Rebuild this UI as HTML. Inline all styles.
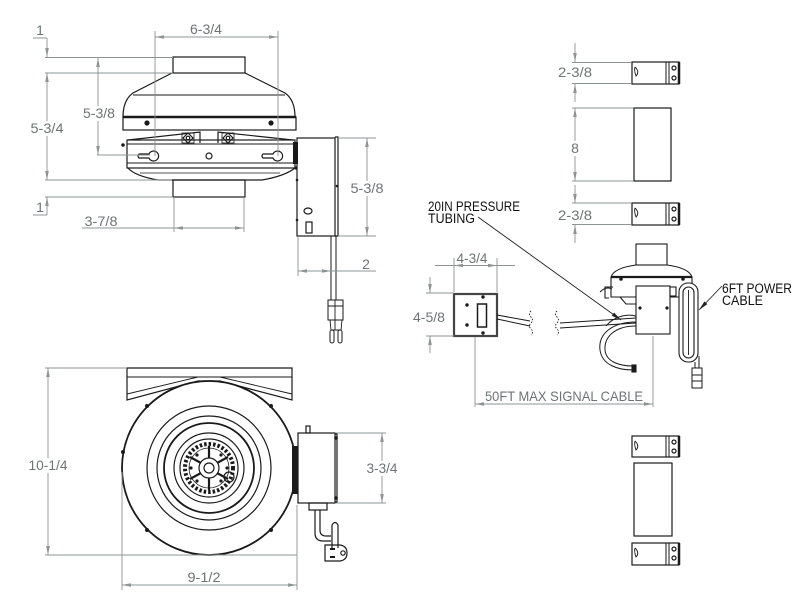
<!DOCTYPE html>
<html><head><meta charset="utf-8"><style>
html,body{margin:0;padding:0;background:#fff;}
svg{display:block;}
.d{font-family:"Liberation Sans",sans-serif;font-size:14px;fill:#6e7474;}
.c{font-family:"Liberation Sans",sans-serif;font-size:13.5px;fill:#111;}
</style></head><body>
<svg width="800" height="612" viewBox="0 0 800 612" xmlns="http://www.w3.org/2000/svg">
<defs>
<marker id="a" viewBox="0 0 10 4" markerWidth="9" markerHeight="3.6" refX="10" refY="2" orient="auto-start-reverse" markerUnits="userSpaceOnUse">
<path d="M0,0L10,2L0,4z" fill="#8e9494"/></marker>
<marker id="b" viewBox="0 0 10 4" markerWidth="10" markerHeight="4" refX="10" refY="2" orient="auto" markerUnits="userSpaceOnUse">
<path d="M0,0L10,2L0,4z" fill="#222"/></marker>
</defs>
<rect width="800" height="612" fill="#fff"/>

<!-- ============ TOP-LEFT SIDE VIEW (drawing) ============ -->
<g stroke="#1a1a1a" stroke-width="1.2" fill="none">
 <rect x="173" y="57" width="72" height="16"/>
 <path d="M172,73L133,93Q123,100 123,117 M245,73L285,93Q295,100 295,117"/>
 <path d="M133,95H285" stroke-width="0.9"/>
 <path d="M123,117H296" stroke-width="2.6"/>
 <rect x="123" y="117" width="173" height="13"/>
 <path d="M128,140L200,132V143 M218,143V132L293,140"/>
 <rect x="127" y="140" width="168" height="28"/>
 <path d="M127,144H295 M127,163H295" stroke-width="0.9"/>
 <path d="M128,168Q135,176 158,180H262Q285,176 295,168"/>
 <path d="M140,173H280" stroke-width="0.7"/>
 <rect x="173" y="180" width="72" height="17"/>
 <!-- keyholes -->
 <path d="M139,154H149A5,5 0 1 1 149,158H139Q137,156 139,154Z"/>
 <path d="M263,154H273A5,5 0 1 1 273,158H263Q261,156 263,154Z"/>
 <circle cx="209" cy="156" r="3"/>
 <!-- tabs -->
 <rect x="182" y="133" width="12" height="10" stroke-width="0.8"/>
 <rect x="222" y="133" width="12" height="10" stroke-width="0.8"/>
 <path d="M188,133L193,138L188,143L183,138Z M228,133L233,138L228,143L223,138Z"/>
 <circle cx="188" cy="138" r="1.8"/><circle cx="228" cy="138" r="1.8"/>
 <!-- control box -->
 <rect x="297" y="138" width="38" height="98" fill="#fff"/>
 <path d="M335,137H338V236H335" />
 <path d="M331,236V300 M336,236V300" stroke-width="1"/>
 <rect x="328" y="300" width="15" height="20" stroke-width="1"/>
 <path d="M330,320L331,330H341L342,320 M335,300V330 M328,306H343" stroke-width="0.9"/>
 <rect x="330" y="330" width="4" height="13" rx="2" stroke-width="1"/>
 <rect x="338" y="330" width="4" height="13" rx="2" stroke-width="1"/>
 <ellipse cx="308" cy="211" rx="4" ry="3"/>
 <rect x="306" y="222" width="6" height="11"/>
</g>
<g fill="#1a1a1a">
 <circle cx="147" cy="123" r="2.6"/><circle cx="271" cy="123" r="2.6"/>
 <circle cx="123" cy="145" r="1.8"/>
 <rect x="293" y="142" width="5" height="22"/>
 <circle cx="296" cy="168" r="1.6"/><circle cx="297" cy="180" r="1.3"/>
 <circle cx="297" cy="220" r="1.3"/><circle cx="337" cy="186" r="1.3"/>
</g>

<!-- ============ BOTTOM-LEFT FRONT VIEW ============ -->
<g stroke="#1a1a1a" stroke-width="1.2" fill="none">
 <path d="M127,368H292V400L220,381H198L127,400Z" fill="#fff"/>
 <path d="M127,377H292 M127,394L198,377 M292,394L220,377" stroke-width="0.9"/>
 <circle cx="209" cy="468" r="87" stroke-width="1.8"/>
 <circle cx="209" cy="468" r="62"/>
 <circle cx="209" cy="468" r="52"/>
 <circle cx="209" cy="468" r="45" stroke-width="1.8"/>
 <circle cx="209" cy="468" r="35"/>
 <circle cx="209" cy="468" r="29"/>
 <circle cx="209" cy="468" r="24" stroke-width="4" stroke-dasharray="2.5 2"/>
 <circle cx="209" cy="468" r="20" stroke-width="0.8"/>
 <circle cx="209" cy="468" r="10"/>
 <circle cx="209" cy="468" r="5"/>
 <path d="M209,458V446 M217,463L228,457 M217,473L228,479 M209,478V490 M201,473L190,479 M201,463L190,457" stroke-width="2.2"/>
 <circle cx="229" cy="477" r="5"/>
 <!-- box -->
 <rect x="298" y="433" width="37" height="70" fill="#fff"/>
 <path d="M335,434H337V502H335"/>
 <rect x="306" y="426" width="4" height="7"/>
 <rect x="309" y="503" width="18" height="7"/>
 <path d="M315,510V533Q315,541 323,541H331 M320,510V530Q320,536 326,536H331"/>
 <path d="M332,548V525Q335,520 338,525V548"/>
 <path d="M325,545H340Q347,546 347,553Q347,560 340,561H325Z"/>
 <circle cx="343" cy="553" r="2.2"/>
</g>
<g fill="#1a1a1a">
 <circle cx="147" cy="406" r="2"/><circle cx="271" cy="406" r="2"/>
 <circle cx="123" cy="452" r="2"/><circle cx="295" cy="452" r="2"/>
 <circle cx="147" cy="530" r="2"/><circle cx="271" cy="530" r="2"/>
 <rect x="292" y="446" width="6" height="48"/>
 <circle cx="336" cy="438" r="1.8"/><circle cx="336" cy="498" r="1.8"/>
 <rect x="330" y="548" width="5" height="2"/><rect x="330" y="556" width="5" height="2"/>
 <circle cx="197" cy="455" r="1.6"/><circle cx="221" cy="455" r="1.6"/>
 <circle cx="197" cy="481" r="1.6"/><circle cx="221" cy="481" r="1.6"/>
 <circle cx="191" cy="468" r="1.6"/><circle cx="227" cy="468" r="1.6"/>
</g>

<!-- ============ RIGHT STACK ============ -->
<g stroke="#1a1a1a" stroke-width="1.2" fill="none">
 <rect x="632" y="62" width="47" height="22"/>
 <path d="M666,62V84 M669,62V84" stroke-width="1"/>
 <path d="M679,62V84" stroke-width="2.5"/>
 <circle cx="674" cy="68" r="2"/><circle cx="674" cy="78" r="2"/>
 <path d="M635,67Q640,72 636,76Q634,71 635,67" stroke-width="0.9"/>
 <rect x="634" y="108" width="37" height="73"/>
 <rect x="632" y="203" width="47" height="22"/>
 <path d="M666,203V225 M669,203V225" stroke-width="1"/>
 <path d="M679,203V225" stroke-width="2.5"/>
 <circle cx="674" cy="209" r="2"/><circle cx="674" cy="219" r="2"/>
 <path d="M635,208Q640,213 636,217Q634,212 635,208" stroke-width="0.9"/>

 <rect x="632" y="436" width="47" height="21"/>
 <path d="M666,436V457 M669,436V457" stroke-width="1"/>
 <path d="M679,436V457" stroke-width="2.5"/>
 <circle cx="674" cy="442" r="2"/><circle cx="674" cy="451" r="2"/>
 <path d="M635,441Q640,446 636,450Q634,445 635,441" stroke-width="0.9"/>
 <rect x="634" y="463" width="38" height="73"/>
 <rect x="632" y="543" width="47" height="22"/>
 <path d="M666,543V565 M669,543V565" stroke-width="1"/>
 <path d="M679,543V565" stroke-width="2.5"/>
 <circle cx="674" cy="549" r="2"/><circle cx="674" cy="558" r="2"/>
 <path d="M635,548Q640,553 636,557Q634,552 635,548" stroke-width="0.9"/>
</g>

<!-- ============ RIGHT-MID ASSEMBLY ============ -->
<g stroke="#1a1a1a" stroke-width="1.1" fill="none">
 <!-- switch box -->
 <rect x="454" y="294" width="43" height="42" stroke="#444" stroke-width="2.2"/>
 <rect x="477.5" y="304" width="9" height="23" stroke-width="1.5"/>
 <path d="M497,315L530,321 M497,319L530,326" stroke-width="1"/>
 <path d="M531,311q-3,3 0,6q3,3 0,6q-3,3 0,6q3,3 0,6" stroke-width="0.9" stroke-dasharray="1.5 1.5"/>
 <path d="M557,311q-3,3 0,6q3,3 0,6q-3,3 0,6q3,3 0,6" stroke-width="0.9" stroke-dasharray="1.5 1.5"/>
 <path d="M560,323L636,318 M560,328L636,323" stroke-width="1"/>
 <!-- fan -->
 <rect x="636" y="244" width="31" height="21"/>
 <path d="M636,265Q614,268 611,277V297H692V277Q689,268 667,265"/>
 <path d="M611,277H692" stroke-width="2.2"/>
 <path d="M620,297L626,304H640" />
 <path d="M613,287H605V298H609"/>
 <path d="M600,292Q606,286 612,289" stroke-width="0.9"/>
 <!-- tubing -->
 <path d="M636,322C612,322 598,334 600,350C602,365 618,370 633,370" stroke-width="1"/>
 <path d="M636,326C616,326 604,336 605,350C606,362 620,366 633,366" stroke-width="1"/>
 <path d="M640,318C630,312 614,316 606,326" stroke-width="1"/>
 <rect x="632" y="365" width="4" height="7" fill="#1a1a1a"/>
 <!-- box -->
 <rect x="636" y="286" width="34" height="48" fill="#fff"/>
 <rect x="670" y="287" width="6" height="9" fill="#fff"/>
 <!-- power cable loops -->
 <rect x="679" y="283" width="19" height="79" rx="9" fill="#fff"/>
 <rect x="683" y="287" width="11" height="71" rx="5.5"/>
 <path d="M688.5,290V355" stroke-width="0.9"/>
 <path d="M695,362V368 M699,356V368" stroke-width="1"/>
 <rect x="692" y="368" width="10" height="20" stroke-width="1"/>
 <path d="M692,375H702 M692,381H702" stroke-width="0.9"/>
</g>
<g fill="#1a1a1a">
 <circle cx="467" cy="305" r="1.7"/><circle cx="467" cy="325" r="1.7"/>
 <circle cx="483" cy="297" r="1.7"/><circle cx="483" cy="333" r="1.7"/>
 <circle cx="621" cy="279" r="1.8"/><circle cx="683" cy="279" r="1.8"/>
 <circle cx="640" cy="308" r="1.6"/><circle cx="667" cy="308" r="1.6"/>
</g>

<!-- ============ DIMENSION LINES ============ -->
<g stroke="#8e9494" stroke-width="0.9" fill="none">
 <!-- top-left -->
 <path d="M33,38H47 M45,57.5H173 M45,73H172 M97,155H150 M45,180H172 M45,197H173 M33,215H47 M174,197V232 M244,197V232 M155,31V156 M278,31V156 M338,138H376 M338,236H376 M298,236V276 M82,228H174 M331,271H376"/>
 <line x1="47" y1="38" x2="47" y2="57" marker-end="url(#a)"/>
 <line x1="47" y1="73" x2="47" y2="180" marker-start="url(#a)" marker-end="url(#a)"/>
 <line x1="98" y1="58" x2="98" y2="155" marker-start="url(#a)" marker-end="url(#a)"/>
 <line x1="47" y1="215" x2="47" y2="197" marker-end="url(#a)"/>
 <line x1="174" y1="228" x2="244" y2="228" marker-start="url(#a)" marker-end="url(#a)"/>
 <line x1="155" y1="37" x2="278" y2="37" marker-start="url(#a)" marker-end="url(#a)"/>
 <line x1="367" y1="138" x2="367" y2="236" marker-start="url(#a)" marker-end="url(#a)"/>
 <line x1="298" y1="271" x2="331" y2="271" marker-start="url(#a)" marker-end="url(#a)"/>
 <!-- bottom-left -->
 <path d="M45,368H127 M45,555H297 M122,472V590 M297,505V590 M336,433H386 M336,503H386"/>
 <line x1="48" y1="368" x2="48" y2="555" marker-start="url(#a)" marker-end="url(#a)"/>
 <line x1="122" y1="585" x2="297" y2="585" marker-start="url(#a)" marker-end="url(#a)"/>
 <line x1="382" y1="433" x2="382" y2="503" marker-start="url(#a)" marker-end="url(#a)"/>
 <!-- right stack -->
 <path d="M572,62.5H631 M572,83.5H631 M572,108H633 M572,181H633 M572,203H631 M572,224.5H631"/>
 <line x1="575" y1="43" x2="575" y2="62" marker-end="url(#a)"/>
 <line x1="575" y1="102" x2="575" y2="84" marker-end="url(#a)"/>
 <line x1="575" y1="108" x2="575" y2="181" marker-start="url(#a)" marker-end="url(#a)"/>
 <line x1="575" y1="185" x2="575" y2="203" marker-end="url(#a)"/>
 <line x1="575" y1="243" x2="575" y2="225" marker-end="url(#a)"/>
 <!-- right-mid -->
 <path d="M435,265.5H454 M497,265.5H515 M454,258V292 M497,258V292 M426,293H454 M426,336H454 M475,337V407 M653,336V407"/>
 <line x1="454" y1="265.5" x2="497" y2="265.5" marker-start="url(#a)" marker-end="url(#a)"/>
 <line x1="430" y1="277" x2="430" y2="293" marker-end="url(#a)"/>
 <line x1="430" y1="353" x2="430" y2="336" marker-end="url(#a)"/>
 <line x1="475" y1="404" x2="653" y2="404" marker-start="url(#a)" marker-end="url(#a)"/>
</g>

<!-- callout leaders -->
<g stroke="#222" stroke-width="0.9" fill="none">
 <line x1="478" y1="217" x2="621" y2="320" marker-end="url(#b)"/>
 <line x1="722" y1="286" x2="699" y2="310" marker-end="url(#b)"/>
</g>

<!-- white breaks behind dim texts on lines -->
<g fill="#fff">
 <rect x="29" y="121" width="37" height="15"/>
 <rect x="81" y="106" width="36" height="15"/>
 <rect x="349" y="181" width="36" height="15"/>
 <rect x="27" y="458" width="42" height="15"/>
 <rect x="365" y="461" width="35" height="15"/>
 <rect x="569" y="141" width="12" height="15"/>
 <rect x="411" y="310" width="36" height="15"/>
 <rect x="556" y="65" width="38" height="15"/>
 <rect x="556" y="208" width="38" height="15"/>
</g>

<!-- dimension texts -->
<g class="d" text-anchor="middle">
 <text x="40" y="35">1</text>
 <text x="40" y="212">1</text>
 <text x="206" y="34" textLength="32" lengthAdjust="spacingAndGlyphs">6-3/4</text>
 <text x="47" y="133" textLength="33" lengthAdjust="spacingAndGlyphs">5-3/4</text>
 <text x="99" y="118" textLength="32" lengthAdjust="spacingAndGlyphs">5-3/8</text>
 <text x="101" y="226" textLength="33" lengthAdjust="spacingAndGlyphs">3-7/8</text>
 <text x="367" y="193" textLength="33" lengthAdjust="spacingAndGlyphs">5-3/8</text>
 <text x="366" y="269">2</text>
 <text x="48" y="470" textLength="39" lengthAdjust="spacingAndGlyphs">10-1/4</text>
 <text x="204" y="582" textLength="33" lengthAdjust="spacingAndGlyphs">9-1/2</text>
 <text x="382" y="473" textLength="31" lengthAdjust="spacingAndGlyphs">3-3/4</text>
 <text x="575" y="77" textLength="34" lengthAdjust="spacingAndGlyphs">2-3/8</text>
 <text x="575" y="153">8</text>
 <text x="575" y="220" textLength="34" lengthAdjust="spacingAndGlyphs">2-3/8</text>
 <text x="472" y="263" textLength="31" lengthAdjust="spacingAndGlyphs">4-3/4</text>
 <text x="429" y="322" textLength="32" lengthAdjust="spacingAndGlyphs">4-5/8</text>
 <text x="564" y="401" textLength="158" lengthAdjust="spacingAndGlyphs">50FT MAX SIGNAL CABLE</text>
</g>

<!-- callout texts -->
<g class="c">
 <text x="428" y="211" textLength="92" lengthAdjust="spacingAndGlyphs">20IN PRESSURE</text>
 <text x="428" y="223" textLength="47" lengthAdjust="spacingAndGlyphs">TUBING</text>
 <text x="722" y="293" textLength="70" lengthAdjust="spacingAndGlyphs">6FT POWER</text>
 <text x="722" y="305" textLength="41" lengthAdjust="spacingAndGlyphs">CABLE</text>
</g>
</svg>
</body></html>
